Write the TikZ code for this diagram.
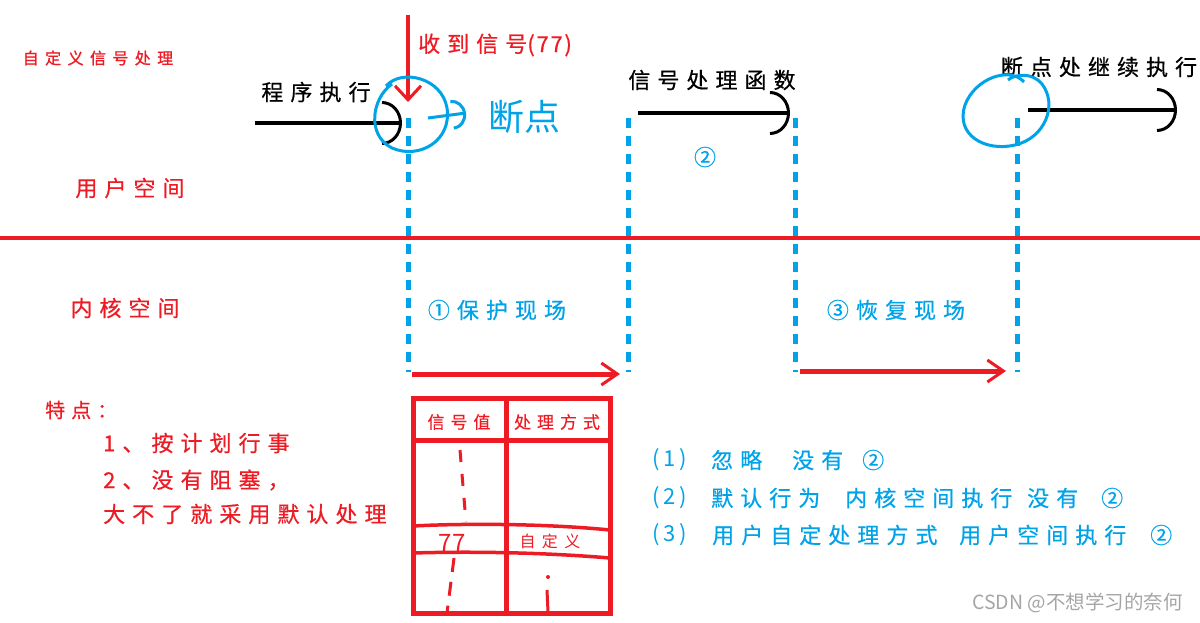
\documentclass[tikz,border=0pt]{standalone}
\usepackage{fontspec}
\usepackage{xcolor}
\usepackage{tikz}
\usetikzlibrary{arrows.meta, positioning}
\setmainfont{Noto Sans CJK SC}
\definecolor{paintred}{RGB}{237,28,36}
\definecolor{paintblue}{RGB}{0,162,232}
\definecolor{markgray}{RGB}{165,165,165}

\begin{document}
\begin{tikzpicture}[x=1pt, y=-1pt,
    lbl/.style={inner sep=0pt, font=\fontsize{22}{26}\selectfont\addfontfeature{LetterSpace=32, FakeBold=0.6}},
    redlbl/.style={lbl, text=paintred},
    bluelbl/.style={lbl, text=paintblue},
    numlbl/.style={bluelbl, font=\fontsize{22}{26}\selectfont\addfontfeature{LetterSpace=18}},
    cell/.style={inner sep=0pt, text=paintred, font=\fontsize{17}{20}\selectfont\addfontfeature{LetterSpace=35, FakeBold=0.5}},
    flow/.style={line width=4pt, -{Arc Barb[length=20pt, width=44pt, line width=3pt]}},
    jump/.style={paintred, line width=5pt, -{Straight Barb[length=16pt, width=22pt, line width=3pt]}},
    bound/.style={paintblue, line width=5pt, dash pattern=on 10pt off 8pt},
    hand/.style={paintblue, line width=3pt},
    tbl/.style={paintred, line width=5pt}
]
    \useasboundingbox (0,0) rectangle (1200,622);

    % title and the two spaces
    \node[inner sep=0pt, text=paintred, font=\fontsize{16}{18}\selectfont\addfontfeature{LetterSpace=40, FakeBold=1.2}] (title) at (98,58) {自定义信号处理};
    \coordinate (sepL) at (0,238);
    \coordinate (sepR) at (1200,238);
    \draw[paintred, line width=4pt] (sepL) -- (sepR);
    \node[redlbl] (user) at (130,188) {用户空间};
    \node[redlbl] (kern) at (125,308) {内核空间};

    % user space flow
    \node[lbl] (run) at (316,92) {程序执行};
    \coordinate (runS) at (255,123);
    \coordinate (runE) at (402,123);
    \draw[flow] (runS) -- (runE);

    \node[redlbl, anchor=west] (recv) at (418,45) {收到信号{\addfontfeature{LetterSpace=8}(77)}};
    \coordinate (sigS) at (408,15);
    \coordinate (sigE) at (408,102);
    \draw[paintred, line width=4pt, -{Straight Barb[length=14pt, width=26pt, line width=3pt]}] (sigS) -- (sigE);

    \draw[hand] (392,84) .. controls (372,98) and (366,135) .. (392,148)
        .. controls (420,160) and (452,140) .. (447,108)
        .. controls (442,78) and (402,68) .. (386,86);
    \coordinate (brkS) at (428,118);
    \coordinate (brkE) at (466,113);
    \draw[hand, -{Arc Barb[length=14pt, width=30pt, line width=3pt]}] (brkS) -- (brkE);
    \node[inner sep=0pt, text=paintblue, font=\fontsize{36}{40}\selectfont] (brk) at (524,117) {断点};

    \node[lbl] (hdl) at (712,80) {信号处理函数};
    \coordinate (hdlS) at (638,113);
    \coordinate (hdlE) at (790,113);
    \draw[flow] (hdlS) -- (hdlE);
    \node[bluelbl] (two) at (705,157) {②};

    \node[lbl] (resume) at (1099,67) {断点处继续执行};
    \coordinate (resS) at (1028,110);
    \coordinate (resE) at (1177,110);
    \draw[flow] (resS) -- (resE);
    \draw[hand] (1024,82) .. controls (1010,66) and (975,78) .. (965,105)
        .. controls (955,135) and (985,152) .. (1015,145)
        .. controls (1045,138) and (1058,105) .. (1042,84)
        .. controls (1032,72) and (1015,74) .. (1008,80);

    % boundaries between the stages
    \foreach \name/\x in {brk/408, hdl/628, ret/795, end/1017} {
        \coordinate (\name T) at (\x,118);
        \coordinate (\name B) at (\x,372);
        \draw[bound] (\name T) -- (\name B);
    }

    % kernel space
    \node[bluelbl] (save) at (497,310) {①保护现场};
    \node[bluelbl] (restore) at (896,310) {③恢复现场};
    \coordinate (saveS) at (412,374);
    \coordinate (saveE) at (620,374);
    \draw[jump] (saveS) -- (saveE);
    \coordinate (restS) at (800,371);
    \coordinate (restE) at (1006,371);
    \draw[jump] (restS) -- (restE);

    % features
    \node[redlbl, anchor=west, font=\fontsize{20}{24}\selectfont\addfontfeature{LetterSpace=30, FakeBold=0.6}] (feat) at (45,410) {特点：};
    \node[redlbl, anchor=west] (featA) at (103,443) {1、按计划行事};
    \node[redlbl, anchor=west] (featB) at (103,480) {2、没有阻塞，};
    \node[redlbl, anchor=west] (featC) at (103,514) {大不了就采用默认处理};

    % signal table
    \draw[tbl] (413,398) rectangle (610,613);
    \draw[tbl] (506,398) -- (506,613);
    \draw[tbl] (413,440) -- (610,440);
    \draw[paintred, line width=3.5pt] (413,526) .. controls (470,523) and (550,524) .. (610,530);
    \draw[paintred, line width=3.5pt] (413,553) .. controls (480,551) and (550,553) .. (610,558);
    \node[cell] (colVal) at (459,422) {信号值};
    \node[cell] (colWay) at (557,422) {处理方式};
    \node[cell, font=\fontsize{16}{18}\selectfont\addfontfeature{LetterSpace=40}] (custom) at (550,541) {自定义};
    \node[inner sep=0pt, text=paintred, font=\fontsize{24}{26}\selectfont\itshape] (num) at (452,543) {77};
    \draw[paintred, line width=3pt, dash pattern=on 12pt off 12pt] (460,450) -- (466,522);
    \draw[paintred, line width=3pt, dash pattern=on 14pt off 10pt] (454,558) -- (447,613);
    \fill[paintred] (548,577) circle (2pt);
    \draw[paintred, line width=3pt] (547,590) -- (548,612);

    % handling options
    \foreach \y/\n in {460/1, 498/2, 535/3}
        \node[numlbl, anchor=west] (optNum\n) at (652,\y) {(\n)};
    \foreach \x/\t in {711/忽略, 792/没有, 862/②}
        \node[bluelbl, anchor=west] (optA\x) at (\x,460) {\t};
    \foreach \x/\t in {711/默认行为, 845/内核空间执行, 1027/没有, 1101/②}
        \node[bluelbl, anchor=west] (optB\x) at (\x,498) {\t};
    \foreach \x/\t in {712/用户自定处理方式, 959/用户空间执行, 1150/②}
        \node[bluelbl, anchor=west] (optC\x) at (\x,535) {\t};

    \node[inner sep=0pt, anchor=east, text=markgray, font=\fontsize{19.5}{22}\selectfont] (mark) at (1183,603) {CSDN @不想学习的奈何};
\end{tikzpicture}
\end{document}
